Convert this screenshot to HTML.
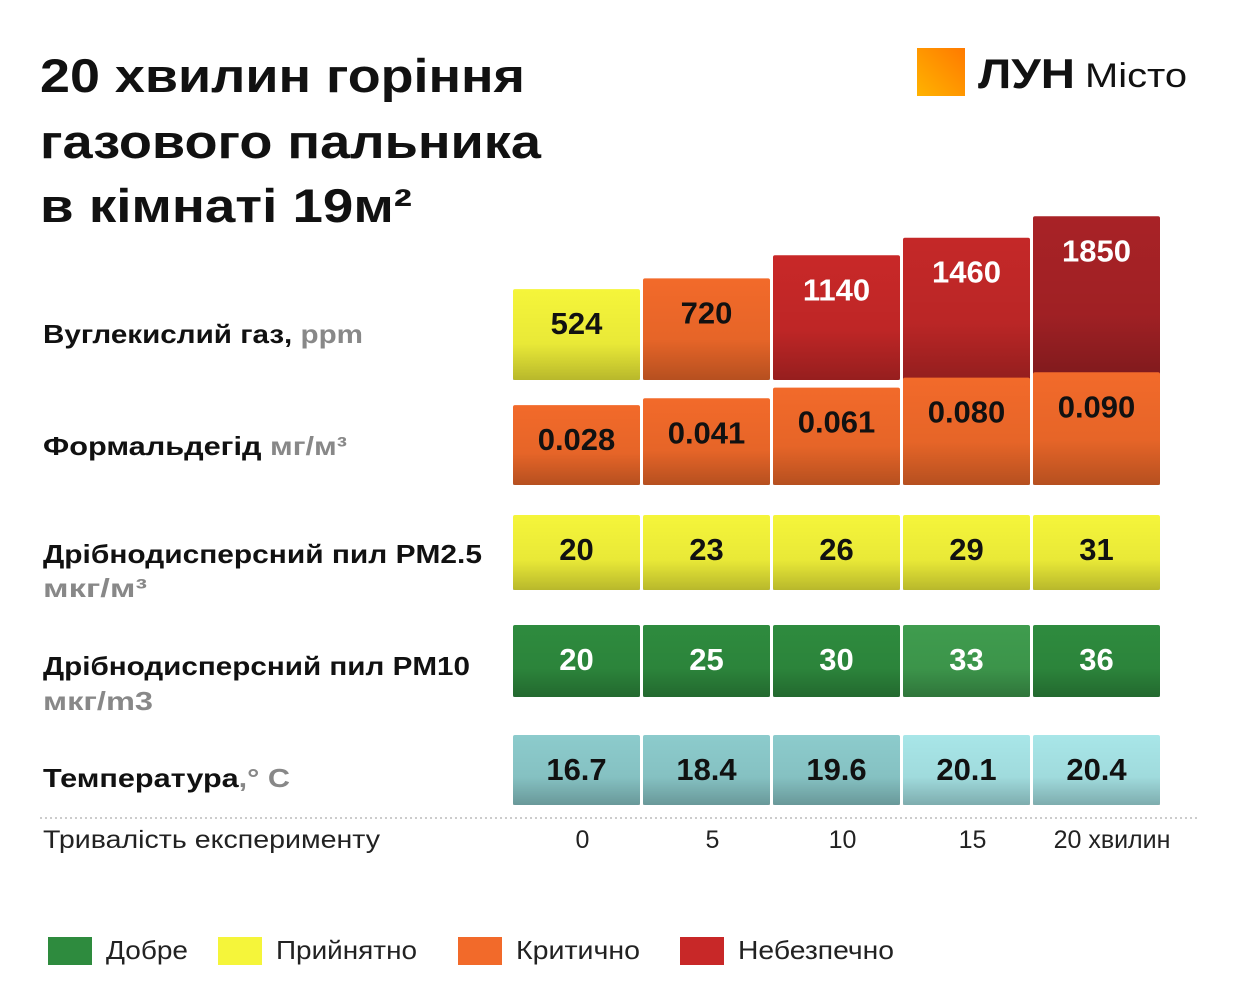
<!DOCTYPE html>
<html><head><meta charset="utf-8"><style>
body{margin:0;background:#fff;}
svg{display:block;font-family:"Liberation Sans","DejaVu Sans",sans-serif;}
</style></head><body>
<svg id="chart" width="1250" height="995" viewBox="0 0 1250 995">
<defs>
<linearGradient id="logo" x1="0" y1="1" x2="1" y2="0"><stop offset="0" stop-color="#ffb300"/><stop offset="1" stop-color="#ff7a00"/></linearGradient>
<linearGradient id="shade" x1="0" y1="0" x2="0" y2="1"><stop offset="0" stop-color="#000" stop-opacity="0"/><stop offset="0.6" stop-color="#000" stop-opacity="0.05"/><stop offset="1" stop-color="#000" stop-opacity="0.25"/></linearGradient>
</defs>
<rect width="1250" height="995" fill="#fff"/>
<g font-weight="bold" font-size="47" fill="#111">
<text x="40" y="92" textLength="485" lengthAdjust="spacingAndGlyphs">20 хвилин горіння</text>
<text x="40" y="158" textLength="501" lengthAdjust="spacingAndGlyphs">газового пальника</text>
<text x="40" y="222" textLength="372" lengthAdjust="spacingAndGlyphs">в кімнаті 19м²</text>
</g>
<g>
<rect x="917" y="48" width="48" height="48" fill="url(#logo)"/>
<text x="978" y="88" font-size="42" font-weight="bold" fill="#111" textLength="97" lengthAdjust="spacingAndGlyphs">ЛУН</text>
<text x="1085" y="87" font-size="34" fill="#111" textLength="102" lengthAdjust="spacingAndGlyphs">Місто</text>
</g>
<g id="rowlabels" font-size="26" font-weight="bold" fill="#111">
<text x="43" y="343" textLength="320" lengthAdjust="spacingAndGlyphs">Вуглекислий газ, <tspan fill="#888">ppm</tspan></text>
<text x="43" y="455" textLength="304" lengthAdjust="spacingAndGlyphs">Формальдегід <tspan fill="#888">мг/м³</tspan></text>
<text x="43" y="563" textLength="439" lengthAdjust="spacingAndGlyphs">Дрібнодисперсний пил PM2.5</text>
<text x="43" y="597" fill="#888" textLength="104" lengthAdjust="spacingAndGlyphs">мкг/м³</text>
<text x="43" y="675" textLength="427" lengthAdjust="spacingAndGlyphs">Дрібнодисперсний пил PM10</text>
<text x="43" y="710" fill="#888" textLength="110" lengthAdjust="spacingAndGlyphs">мкг/m3</text>
<text x="43" y="787" textLength="247" lengthAdjust="spacingAndGlyphs">Температура<tspan fill="#888">,° C</tspan></text>
</g>
<line x1="40" y1="818" x2="1200" y2="818" stroke="#bbb" stroke-width="1.5" stroke-dasharray="2,3"/>
<text x="43" y="848" font-size="25" fill="#222" textLength="337" lengthAdjust="spacingAndGlyphs">Тривалість експерименту</text>
<g id="bars"></g>
<g id="ticks" font-size="25" fill="#222" text-anchor="middle"></g>
<g font-size="26" fill="#222">
<rect x="48" y="937" width="44" height="28" fill="#2e8b3e"/>
<text x="106" y="959" textLength="82" lengthAdjust="spacingAndGlyphs">Добре</text>
<rect x="218" y="937" width="44" height="28" fill="#f5f53a"/>
<text x="276" y="959" textLength="141" lengthAdjust="spacingAndGlyphs">Прийнятно</text>
<rect x="458" y="937" width="44" height="28" fill="#f26a2a"/>
<text x="516" y="959" textLength="124" lengthAdjust="spacingAndGlyphs">Критично</text>
<rect x="680" y="937" width="44" height="28" fill="#c82828"/>
<text x="738" y="959" textLength="156" lengthAdjust="spacingAndGlyphs">Небезпечно</text>
</g>
</svg>
<script>
const minutes = ["0","5","10","15","20 хвилин"];
const co2 = [524, 720, 1140, 1460, 1850];
const co2Labels = ["524","720","1140","1460","1850"];
const formaldehyde = [0.028, 0.041, 0.061, 0.080, 0.090];
const formLabels = ["0.028","0.041","0.061","0.080","0.090"];
const pm25 = [20, 23, 26, 29, 31];
const pm10 = [20, 25, 30, 33, 36];
const temperature = [16.7, 18.4, 19.6, 20.1, 20.4];
const tempLabels = ["16.7","18.4","19.6","20.1","20.4"];
const co2Colors = ["#f5f53a","#f26a2a","#c82828","#c42828","#a82226"];

const NS="http://www.w3.org/2000/svg";
const bars=document.getElementById('bars');
const ticks=document.getElementById('ticks');
function colX(i){return 513+i*130;}
const colW=127;
function co2H(v){return 62+v*0.055;}
function formH(v){return 65+v*530;}
function box(i,top,bottom,fill,label,txtFill,name){
  const r=document.createElementNS(NS,'rect');
  r.setAttribute('x',colX(i));r.setAttribute('y',top);r.setAttribute('width',colW);r.setAttribute('height',bottom-top);
  r.setAttribute('fill',fill);r.setAttribute('rx',2);
  
  
  bars.appendChild(r);
  const s=document.createElementNS(NS,'rect');
  s.setAttribute('x',colX(i));s.setAttribute('y',top);s.setAttribute('width',colW);s.setAttribute('height',bottom-top);
  s.setAttribute('fill','url(#shade)');
  
  
  bars.appendChild(s);
  const t=document.createElementNS(NS,'text');
  t.setAttribute('x',colX(i)+colW/2);t.setAttribute('y',top+Math.min(45,(bottom-top)/2+11));
  t.setAttribute('text-anchor','middle');t.setAttribute('font-size','31');t.setAttribute('font-weight','bold');t.setAttribute('fill',txtFill);
  t.textContent=label;
  
  
  bars.appendChild(t);
}
co2.forEach((v,i)=>{box(i,380-co2H(v),380,co2Colors[i],co2Labels[i],i<2?'#111':'#fff','co2-bar-'+i);});
formaldehyde.forEach((v,i)=>{box(i,485-formH(v),485,'#f26a2a',formLabels[i],'#111','formaldehyde-bar-'+i);});
pm25.forEach((v,i)=>{box(i,515,590,'#f5f53a',String(v),'#111','pm25-bar-'+i);});
pm10.forEach((v,i)=>{box(i,625,697,i==3?'#3f9c4e':'#2e8b3e',String(v),'#fff','pm10-bar-'+i);});
temperature.forEach((v,i)=>{box(i,735,805,i>=3?'#a8e6e8':'#8ccbcc',tempLabels[i],'#111','temperature-bar-'+i);});
minutes.forEach((m,i)=>{
  const t=document.createElementNS(NS,'text');
  t.setAttribute('x',i==4?1112:colX(i)+colW/2+6);t.setAttribute('y',848);
  t.textContent=m;
  
  
  ticks.appendChild(t);
});
</script>
</body></html>
